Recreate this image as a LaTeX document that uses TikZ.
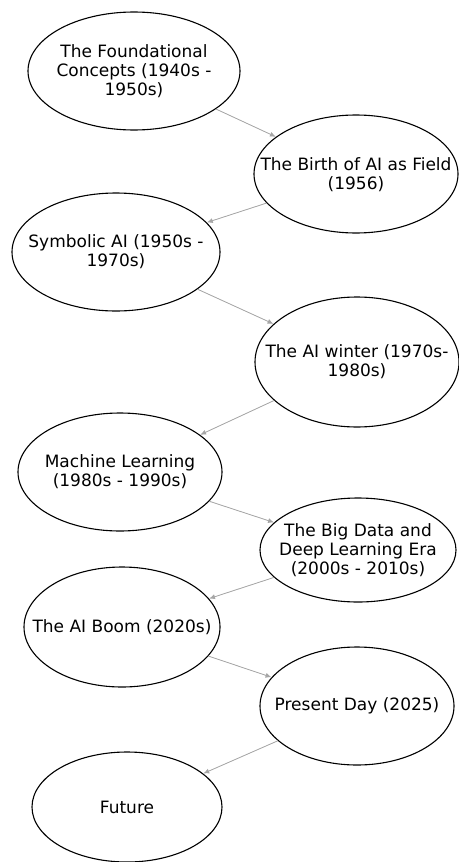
\documentclass[tikz,border=0pt]{standalone}
\usepackage{fontspec}
\setmainfont{DejaVu Sans}
\usepackage{tikz}
\usetikzlibrary{shapes.geometric,arrows.meta}

\begin{document}
\begin{tikzpicture}[x=1pt, y=-1pt,
    era/.style={ellipse, draw=black, line width=1.1pt, inner sep=0pt},
    eratext/.style={align=center, inner sep=0pt, font=\fontsize{17}{19}\selectfont},
    link/.style={-{Latex[length=6pt, width=5pt]}, draw=gray!70, fill=gray!70, line width=0.8pt}]
    % page frame
    \useasboundingbox (0,0) rectangle (458,862);

    % Eras (text put as centre label so the ellipse keeps its size)
    \node[era, minimum width=212, minimum height=118,
        label={[eratext]center:The Foundational\\Concepts (1940s -\\1950s)}] (found) at (134,71) {};
    \node[era, minimum width=204, minimum height=118,
        label={[eratext, yshift=-1]center:The Birth of AI as Field\\(1956)}] (birth) at (356,174) {};
    \node[era, minimum width=208, minimum height=118,
        label={[eratext]center:Symbolic AI (1950s -\\1970s)}] (symb) at (116,252) {};
    \node[era, minimum width=204, minimum height=130,
        label={[eratext]center:The AI winter (1970s-\\1980s)}] (winter) at (357,362) {};
    \node[era, minimum width=204, minimum height=118,
        label={[eratext]center:Machine Learning\\(1980s - 1990s)}] (ml) at (120,472) {};
    \node[era, minimum width=196, minimum height=104,
        label={[eratext]center:The Big Data and\\Deep Learning Era\\(2000s - 2010s)}] (bigdata) at (358,550) {};
    \node[era, minimum width=196, minimum height=120,
        label={[eratext]center:The AI Boom (2020s)}] (boom) at (122,627) {};
    \node[era, minimum width=194, minimum height=118,
        label={[eratext]center:Present Day (2025)}] (present) at (357,706) {};
    \node[era, minimum width=190, minimum height=110,
        label={[eratext]center:Future}] (future) at (127,807) {};

    % Arrows
    \foreach \a/\b in {found/birth, birth/symb, symb/winter, winter/ml,
        ml/bigdata, bigdata/boom, boom/present, present/future} {
        \draw[link] (\a) -- (\b);
    }
\end{tikzpicture}
\end{document}
